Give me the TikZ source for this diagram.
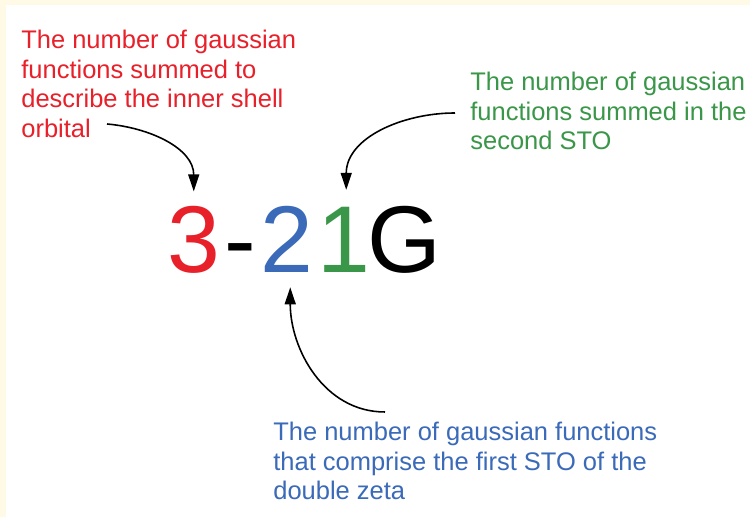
\documentclass[tikz,border=0pt]{standalone}
\usepackage{fontspec}
\setmainfont{Liberation Sans}
\usepackage{xcolor}
\definecolor{bsred}{RGB}{232,32,42}
\definecolor{bsblue}{RGB}{58,106,184}
\definecolor{bsgreen}{RGB}{58,150,72}
\definecolor{bscream}{RGB}{255,250,230}
\usetikzlibrary{arrows.meta, positioning}

\begin{document}
\begin{tikzpicture}[
  note/.style={font=\fontsize{14.5}{16.8}\selectfont, align=left, inner sep=0pt, anchor=north west},
  big/.style={font=\fontsize{54}{60}\selectfont, inner sep=0pt, anchor=base west},
  pointer/.style={-{Triangle[length=3.4mm,width=2.2mm]}, line width=0.9pt}
]
  % Background
  \fill[bscream] (0,0) rectangle (15,10.34);
  \fill[white] (0.12,0) rectangle (15,10.24);

  % Basis set name
  \node[big, bsred] (three) at (3.34,4.88) {3};
  \node[big] (dash) at (4.48,4.88) {-};
  \node[big, bsblue] (two) at (5.20,4.88) {2};
  \node[big, bsgreen] (one) at (6.34,4.88) {1};
  \node[big] (gee) at (7.34,4.88) {G};

  % Notes
  \node[note, bsred] (rednote) at (0.42,9.74)
       {The number of gaussian\\functions summed to\\describe the inner shell\\orbital};
  \node[note, bsgreen] (greennote) at (9.40,8.90)
       {The number of gaussian\\functions summed in the\\second STO};
  \node[note, bsblue] (bluenote) at (5.46,1.90)
       {The number of gaussian functions\\that comprise the first STO of the\\double zeta};

  % Arrows
  \coordinate (redtail) at (2.14,7.86);
  \coordinate (greentail) at (9.10,8.08);
  \coordinate (bluetail) at (7.70,2.10);
  \draw[pointer] (redtail) to[out=-5,in=90] ([yshift=3mm]three.north);
  \draw[pointer] (greentail) to[out=180,in=90] ([xshift=0.5mm,yshift=3.5mm]one.north);
  \draw[pointer] (bluetail) to[out=180,in=-90] ([xshift=0.7mm,yshift=-2.8mm]two.south);
\end{tikzpicture}
\end{document}
